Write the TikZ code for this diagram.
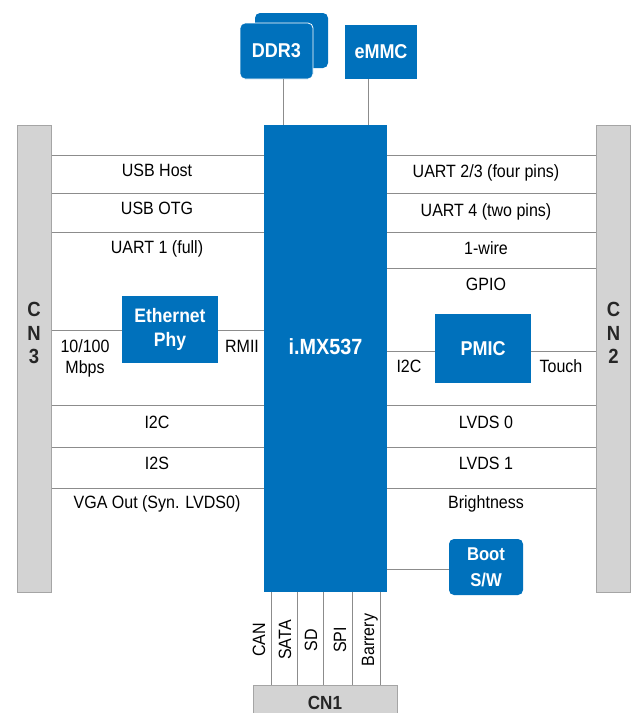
\documentclass[tikz,border=0pt]{standalone}
\usepackage{fontspec}
\setmainfont[FakeStretch=0.9]{Liberation Sans}
\usepackage{xcolor}
\usetikzlibrary{positioning}
\definecolor{chipblue}{RGB}{0,113,188}
\definecolor{conngray}{RGB}{211,211,211}
\definecolor{connedge}{RGB}{165,165,165}
\definecolor{wiregray}{RGB}{140,140,140}

\begin{document}
\begin{tikzpicture}[x=1pt, y=-1pt,
  every node/.style={font=\fontsize{17.8}{20}\selectfont, inner sep=0pt},
  lbl/.style={anchor=base},
  blk/.style={fill=chipblue, text=white, align=center, font=\fontsize{20}{24}\selectfont\bfseries},
  conn/.style={fill=conngray, draw=connedge, line width=1pt},
  connlbl/.style={align=center, font=\fontsize{20.5}{23.5}\selectfont\bfseries, text=black!85},
  wire/.style={draw=wiregray, line width=1pt}]

  \useasboundingbox (0,0) rectangle (635,713);

  % Connectors
  \node[conn, minimum width=34pt, minimum height=467pt] (cn3) at (34,358.5) {};
  \node[connlbl] (cn3txt) at (34,333) {C\\N\\3};
  \node[conn, minimum width=34pt, minimum height=467pt] (cn2) at (613.5,358.5) {};
  \node[connlbl] (cn2txt) at (613.5,333) {C\\N\\2};
  \node[conn, minimum width=144pt, minimum height=34pt] (cn1) at (325,702) {};
  \node[connlbl, font=\fontsize{19}{20}\selectfont\bfseries] (cn1txt) at (325,702.5) {CN1};

  % i.MX537 and memories
  \node[blk, minimum width=123pt, minimum height=467pt] (imx) at (325.5,358.5) {};
  \node[blk, fill=none, font=\fontsize{22}{24}\selectfont\bfseries] (imxtxt) at (325.5,347) {i.MX537};
  \node[blk, rounded corners=5pt, minimum width=73pt, minimum height=55pt] (ddrback) at (291.5,40.5) {};
  \node[blk, draw=white, line width=0.8pt, rounded corners=5pt, minimum width=73pt, minimum height=56pt] (ddr) at (276.5,51) {DDR3};
  \node[blk, minimum width=72pt, minimum height=54pt] (emmc) at (381,52) {eMMC};
  \draw[wire] (ddr.south -| 283,0) -- (imx.north -| 283,0);
  \draw[wire] (emmc.south -| 368,0) -- (imx.north -| 368,0);

  % Left side
  \foreach \y in {155,193,232,405,447,488}
    \draw[wire] (cn3.east |- 0,\y) -- (imx.west |- 0,\y);
  \node[lbl] (usbhost) at (157,176) {USB Host};
  \node[lbl] (usbotg) at (157,214) {USB OTG};
  \node[lbl] (uartone) at (157,253) {UART 1 (full)};
  \node[lbl] (ltwoc) at (157,428) {I2C};
  \node[lbl] (ltwos) at (157,469) {I2S};
  \node[lbl] (vga) at (157,508) {VGA Out (Syn. LVDS0)};

  \node[blk, minimum width=96pt, minimum height=67pt, font=\fontsize{19.5}{24}\selectfont\bfseries] (eth) at (170,329.5) {Ethernet\\Phy};
  \draw[wire] (cn3.east |- 0,330) -- (eth.west |- 0,330);
  \draw[wire] (eth.east |- 0,330) -- (imx.west |- 0,330);
  \node[lbl, align=center, font=\fontsize{17.8}{21}\selectfont] (speed) at (85,373) {10/100\\Mbps};
  \node[lbl] (rmii) at (242,352) {RMII};

  % Right side
  \foreach \y in {155,193,232,268,405,447,488}
    \draw[wire] (imx.east |- 0,\y) -- (cn2.west |- 0,\y);
  \node[lbl] (uarttt) at (486,177) {UART 2/3 (four pins)};
  \node[lbl] (uartfour) at (486,216) {UART 4 (two pins)};
  \node[lbl] (onewire) at (486,254) {1-wire};
  \node[lbl] (gpio) at (486,290) {GPIO};
  \node[lbl] (lvdsa) at (486,428) {LVDS 0};
  \node[lbl] (lvdsb) at (486,469) {LVDS 1};
  \node[lbl] (bright) at (486,508) {Brightness};

  \node[blk, minimum width=96pt, minimum height=69pt] (pmic) at (483,348.5) {PMIC};
  \draw[wire] (imx.east |- 0,351) -- (pmic.west |- 0,351);
  \draw[wire] (pmic.east |- 0,351) -- (cn2.west |- 0,351);
  \node[lbl] (rtwoc) at (409,372) {I2C};
  \node[lbl] (touch) at (561,372) {Touch};

  \node[blk, rounded corners=5pt, minimum width=74pt, minimum height=56pt, font=\fontsize{18.5}{26}\selectfont\bfseries] (boot) at (486,567) {Boot\\S/W};
  \draw[wire] (imx.east |- 0,569) -- (boot.west |- 0,569);

  % Bottom
  \foreach \x/\t in {271/CAN,297/SATA,323/SD,352/SPI,380/Barrery} {
    \draw[wire] (imx.south -| \x,0) -- (cn1.north -| \x,0);
    \node[lbl, rotate=90] (bus\x) at (\x-6,640) {\t};
  }
\end{tikzpicture}
\end{document}
